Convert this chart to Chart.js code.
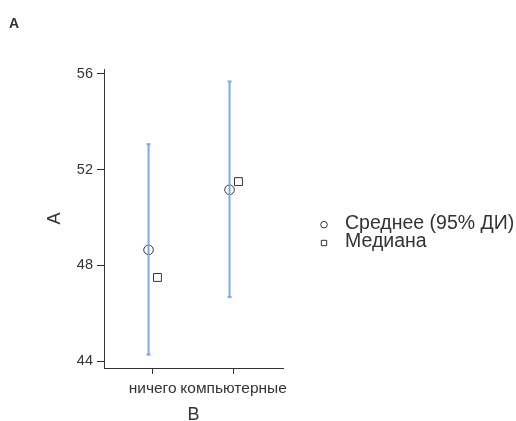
<!DOCTYPE html>
<html><head><meta charset="utf-8">
<script src="https://cdn.jsdelivr.net/npm/chart.js@4/dist/chart.umd.min.js"></script>
<style>html,body{margin:0;padding:0;background:#fff;}canvas{display:block;}</style>
</head><body>
<canvas id="c" width="516" height="421"></canvas>
<script>
const categories = ["ничего", "компьютерные"];
const means = [48.65, 51.16];
const ciLow = [44.28, 46.68];
const ciHigh = [53.06, 55.68];
const medians = [47.5, 51.5];
const yTicks = [44, 48, 52, 56];
const legendLabels = ["Среднее (95% ДИ)", "Медиана"];
const panelTitle = "A";
const yTitle = "A";
const xTitle = "B";

const FONT = "'Liberation Sans', Arial, sans-serif";
const TXT = '#333333';
const BLUE = '#7ba8ee';
const dMean = -0.05, dMed = 0.06;

const datasets = [];
categories.forEach((c, i) => {
  datasets.push({
    type: 'line',
    data: [{x: i + 1 + dMean, y: ciLow[i]}, {x: i + 1 + dMean, y: ciHigh[i]}],
    borderColor: BLUE, borderWidth: 2, pointRadius: 0, fill: false,
    borderCapStyle: 'butt'
  });
});
datasets.push({
  type: 'scatter',
  data: means.map((v, i) => ({x: i + 1 + dMean, y: v})),
  pointStyle: 'circle', pointRadius: 4.8, borderColor: '#333', borderWidth: 1,
  backgroundColor: '#fff'
});
datasets.push({
  type: 'scatter',
  data: medians.map((v, i) => ({x: i + 1 + dMed, y: v})),
  pointStyle: 'rect', pointRadius: 5.6, borderColor: '#333', borderWidth: 1,
  backgroundColor: '#fff'
});

const capsPlugin = {
  id: 'caps',
  afterDatasetsDraw(chart) {
    const ctx = chart.ctx, xs = chart.scales.x, ys = chart.scales.y;
    ctx.save();
    ctx.strokeStyle = BLUE; ctx.lineWidth = 2;
    categories.forEach((c, i) => {
      const x = xs.getPixelForValue(i + 1 + dMean);
      [ciLow[i], ciHigh[i]].forEach(v => {
        const y = ys.getPixelForValue(v);
        ctx.beginPath(); ctx.moveTo(x - 2, y); ctx.lineTo(x + 2, y); ctx.stroke();
      });
    });
    ctx.restore();
  },
  afterDraw(chart) {
    const ctx = chart.ctx;
    ctx.save();
    ctx.fillStyle = TXT;
    ctx.font = "bold 14px " + FONT;
    ctx.textBaseline = 'alphabetic';
    ctx.fillText(panelTitle, 9, 28);
    // legend
    ctx.font = "19.5px " + FONT;
    ctx.textBaseline = 'middle';
    const styles = ['circle', 'rect'];
    const radii = [3.3, 3.8];
    legendLabels.forEach((t, i) => {
      const y = 224.7 + i * 18.3;
      ctx.strokeStyle = '#333'; ctx.fillStyle = '#fff'; ctx.lineWidth = 1;
      Chart.helpers.drawPoint(ctx, {pointStyle: styles[i], radius: radii[i], borderWidth: 1}, 324, y);
      ctx.fillStyle = TXT;
      ctx.fillText(t, 345, y - 1);
    });
    ctx.restore();
  }
};

new Chart(document.getElementById('c'), {
  data: {datasets},
  options: {
    responsive: false, animation: false,
    layout: {padding: {left: 46, top: 69, right: 233, bottom: 0}},
    plugins: {legend: {display: false}, tooltip: {enabled: false}},
    scales: {
      x: {
        type: 'linear', min: 0.4, max: 2.61,
        afterBuildTicks: s => { s.ticks = [{value: 1}, {value: 2}]; },
        afterFit: s => { s.height = 53; },
        grid: {drawOnChartArea: false, drawTicks: true, tickLength: 6, color: '#333', tickWidth: 1},
        border: {display: true, color: '#333', width: 1},
        ticks: {color: TXT, font: {family: FONT, size: 15.5}, padding: 5, maxRotation: 0, autoSkip: false,
          callback: v => categories[v - 1]},
        title: {display: true, text: xTitle, color: TXT, font: {family: FONT, size: 18, lineHeight: 1}, padding: {top: 0, bottom: -3}}
      },
      y: {
        type: 'linear', min: 43.72, max: 56.2,
        afterBuildTicks: s => { s.ticks = yTicks.map(v => ({value: v})); },
        afterFit: s => { s.width = 58; },
        grid: {drawOnChartArea: false, drawTicks: true, tickLength: 7, color: '#333', tickWidth: 1},
        border: {display: true, color: '#333', width: 1},
        ticks: {color: TXT, font: {family: FONT, size: 14.5}, padding: 4},
        title: {display: true, text: yTitle, color: TXT, font: {family: FONT, size: 18, lineHeight: 1}, padding: 0}
      }
    }
  },
  plugins: [capsPlugin]
});
</script>
</body></html>
